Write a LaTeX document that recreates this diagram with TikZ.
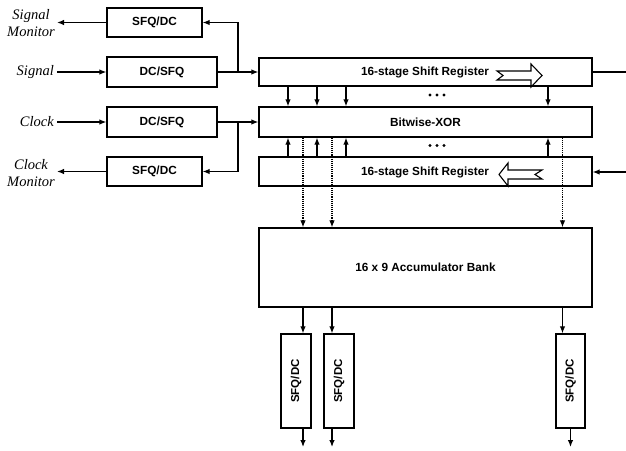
\documentclass[tikz,border=0pt]{standalone}
\usepackage{fontspec}
\setmainfont{Liberation Sans}
\newfontfamily\tnr{Liberation Serif}
\usetikzlibrary{arrows.meta}
\tikzset{
  box/.style={draw, line width=1.3pt, inner sep=0pt, font=\fontsize{11.8}{14}\selectfont\bfseries},
  vtext/.style={rotate=90, inner sep=0pt, font=\fontsize{11.5}{14}\selectfont\bfseries},
  arr/.style={line width=1.2pt, -{Latex[length=7pt,width=5.5pt]}},
  ln/.style={line width=1.2pt},
  dotarr/.style={line width=1.1pt, densely dotted, -{Latex[length=7pt,width=5.5pt]}},
  lbl/.style={font=\fontsize{14.5}{17}\selectfont\tnr\itshape, inner sep=0pt, align=center},
  hollow/.style={draw, fill=white, line width=1.1pt, line join=miter},
  bullet/.style={fill, circle, inner sep=0pt, minimum size=3.2pt}
}
\begin{document}
\begin{tikzpicture}[x=1pt,y=-1pt]
\useasboundingbox (0,0) rectangle (626,450);

% left boxes
\node[box, minimum width=95, minimum height=29] (mon1) at (154.5,22.5) {SFQ/DC};
\node[box, minimum width=110, minimum height=30] (dc1) at (162,72) {DC/SFQ};
\node[box, minimum width=110, minimum height=30] (dc2) at (162,122) {DC/SFQ};
\node[box, minimum width=95, minimum height=29] (mon2) at (154.5,171.5) {SFQ/DC};

% labels
\node[lbl] (lsm) at (31,23.5) {Signal\\Monitor};
\node[lbl, anchor=east] (ls) at (54,72) {Signal};
\node[lbl, anchor=east] (lc) at (54,122) {Clock};
\node[lbl] (lcm) at (31,173.5) {Clock\\Monitor};

% main blocks
\node[box, minimum width=333, minimum height=28] (sr1) at (425.5,72) {};
\node[box, minimum width=333, minimum height=30] (xor) at (425.5,122) {Bitwise-XOR};
\node[box, minimum width=333, minimum height=29] (sr2) at (425.5,171.5) {};
\node[box, minimum width=333, minimum height=79] (acc) at (425.5,267.5) {16 x 9 Accumulator Bank};

\node[inner sep=0pt, font=\fontsize{11.8}{14}\selectfont\bfseries] (t1) at (425,72) {16-stage Shift Register};
\node[inner sep=0pt, font=\fontsize{11.8}{14}\selectfont\bfseries] (t2) at (425,172) {16-stage Shift Register};

% hollow arrows
\draw[hollow] (497,71) -- (531,71) -- (531,64) -- (542,75.5) -- (531,87) -- (531,80) -- (497,80) -- (503,75.5) -- cycle;
\draw[hollow] (542,170) -- (508,170) -- (508,163) -- (499,174.5) -- (508,186) -- (508,179) -- (542,179) -- (535,174.5) -- cycle;

% output boxes
\node[box, minimum width=30, minimum height=94] (o1) at (296,381) {};
\node[box, minimum width=30, minimum height=94] (o2) at (339,381) {};
\node[box, minimum width=29, minimum height=94] (o3) at (570.5,381) {};
\node[vtext] (v1) at (o1) {SFQ/DC};
\node[vtext] (v2) at (o2) {SFQ/DC};
\node[vtext] (v3) at (o3) {SFQ/DC};

% coordinates
\coordinate (bx) at (238,0);
\coordinate (k1) at (288,0);
\coordinate (k2) at (317,0);
\coordinate (k3) at (346,0);
\coordinate (k4) at (548,0);
\coordinate (d1) at (303,0);
\coordinate (d2) at (332,0);
\coordinate (d3) at (562.5,0);
\coordinate (inS) at (57,72);
\coordinate (inC) at (57,122);
\coordinate (outSM) at (57,22.5);
\coordinate (outCM) at (57,171.5);
\coordinate (rOut) at (626,72);
\coordinate (rIn) at (626,172);

% left connections
\draw[arr] (inS) -- (dc1.west);
\draw[arr] (inC) -- (dc2.west);
\draw[arr] (mon1.west) -- (outSM);
\draw[arr] (mon2.west) -- (outCM);
\draw[arr] (dc1.east) -- (sr1.west);
\draw[arr] (dc2.east) -- (xor.west);
\draw[arr] (bx |- dc1.east) |- (mon1.east);
\draw[arr] (bx |- dc2.east) |- (mon2.east);

% right connections
\draw[ln] (sr1.east) -- (rOut);
\draw[arr] (rIn) -- (rIn -| sr2.east);

% SR -> XOR
\foreach \k in {k1,k2,k3,k4}{
  \draw[arr] (\k |- sr1.south) -- (\k |- xor.north);
  \draw[arr] (\k |- sr2.north) -- (\k |- xor.south);
}
% dots
\foreach \x in {430,437,444}{
  \node[bullet] at (\x,95) {};
  \node[bullet] at (\x,145.5) {};
}
% XOR -> accumulator (dotted)
\foreach \d in {d1,d2,d3}{
  \draw[dotarr] (\d |- xor.south) -- (\d |- acc.north);
}
% accumulator -> output converters
\draw[arr] (d1 |- acc.south) -- (d1 |- o1.north);
\draw[arr] (d2 |- acc.south) -- (d2 |- o2.north);
\draw[arr] (d3 |- acc.south) -- (d3 |- o3.north);
% outputs
\coordinate (e1) at (303,447);
\coordinate (e2) at (332,447);
\coordinate (e3) at (570.5,447);
\draw[arr] (e1 |- o1.south) -- (e1);
\draw[arr] (e2 |- o2.south) -- (e2);
\draw[arr] (e3 |- o3.south) -- (e3);
\end{tikzpicture}
\end{document}
